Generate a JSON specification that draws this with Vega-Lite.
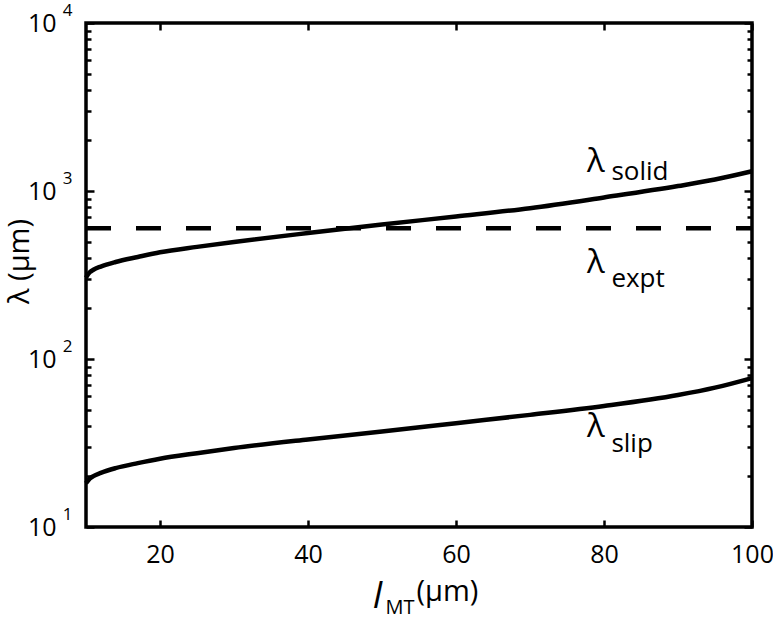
{
  "$schema": "https://vega.github.io/schema/vega-lite/v6.json",
  "width": 666,
  "height": 504,
  "autosize": "none",
  "padding": {"left": 86, "top": 23, "right": 21, "bottom": 91},
  "background": "white",
  "config": {
    "view": {"stroke": "black", "strokeWidth": 3.5},
    "font": "Open Sans",
    "axis": {"domain": false, "grid": false, "tickColor": "black", "tickWidth": 2.5, "labelColor": "black", "titleColor": "black", "labelFont": "Open Sans", "titleFont": "Open Sans", "labelFontSize": 25, "titleFontWeight": "normal", "labelFlush": false, "labelOverlap": false}
  },
  "datasets": {
    "curves": [
      {"l": 10, "lam": 305, "curve": "solid"},
      {"l": 10.5, "lam": 328, "curve": "solid"},
      {"l": 11, "lam": 340, "curve": "solid"},
      {"l": 12, "lam": 355, "curve": "solid"},
      {"l": 14, "lam": 378, "curve": "solid"},
      {"l": 17, "lam": 405, "curve": "solid"},
      {"l": 20, "lam": 432, "curve": "solid"},
      {"l": 25, "lam": 465, "curve": "solid"},
      {"l": 30, "lam": 497, "curve": "solid"},
      {"l": 40, "lam": 562, "curve": "solid"},
      {"l": 50, "lam": 632, "curve": "solid"},
      {"l": 60, "lam": 705, "curve": "solid"},
      {"l": 70, "lam": 790, "curve": "solid"},
      {"l": 80, "lam": 915, "curve": "solid"},
      {"l": 90, "lam": 1070, "curve": "solid"},
      {"l": 95, "lam": 1170, "curve": "solid"},
      {"l": 100, "lam": 1310, "curve": "solid"},
      {"l": 10, "lam": 18.2, "curve": "slip"},
      {"l": 10.5, "lam": 19.4, "curve": "slip"},
      {"l": 11, "lam": 20.1, "curve": "slip"},
      {"l": 12, "lam": 21, "curve": "slip"},
      {"l": 14, "lam": 22.4, "curve": "slip"},
      {"l": 17, "lam": 24, "curve": "slip"},
      {"l": 20, "lam": 25.5, "curve": "slip"},
      {"l": 25, "lam": 27.5, "curve": "slip"},
      {"l": 30, "lam": 29.5, "curve": "slip"},
      {"l": 40, "lam": 33.2, "curve": "slip"},
      {"l": 50, "lam": 37, "curve": "slip"},
      {"l": 60, "lam": 41.5, "curve": "slip"},
      {"l": 70, "lam": 46.5, "curve": "slip"},
      {"l": 80, "lam": 52.5, "curve": "slip"},
      {"l": 90, "lam": 61, "curve": "slip"},
      {"l": 95, "lam": 67.5, "curve": "slip"},
      {"l": 100, "lam": 77, "curve": "slip"}
    ],
    "expt": [
      {"l": 10, "lam": 600},
      {"l": 100, "lam": 600}
    ],
    "labels": [
      {"name": "solid", "lx": 77.7, "ly": 1298, "sx": 81.0, "sy": 1161},
      {"name": "expt", "lx": 77.7, "ly": 324, "sx": 81.0, "sy": 270},
      {"name": "slip", "lx": 77.7, "ly": 34.3, "sx": 81.0, "sy": 27.9}
    ]
  },
  "layer": [
    {
      "data": {"name": "curves"},
      "mark": {"type": "line", "color": "black", "strokeWidth": 4.5, "interpolate": "monotone"},
      "encoding": {
        "x": {
          "field": "l", "type": "quantitative",
          "scale": {"domain": [10, 100], "nice": false, "zero": false},
          "axis": {
            "orient": "bottom", "values": [20, 40, 60, 80, 100], "tickSize": -7, "labelPadding": 22,
            "title": "l", "titleFontStyle": "italic", "titleFontSize": 36,
            "titleX": 291, "titleY": 80, "titleBaseline": "alphabetic", "titleAlign": "center", "titleAngle": 0
          }
        },
        "y": {
          "field": "lam", "type": "quantitative",
          "scale": {"type": "log", "domain": [10, 10000], "nice": false},
          "axis": {
            "orient": "left",
            "values": [10, 20, 30, 40, 50, 60, 70, 80, 90, 100, 200, 300, 400, 500, 600, 700, 800, 900, 1000, 2000, 3000, 4000, 5000, 6000, 7000, 8000, 9000, 10000],
            "tickSize": {"condition": {"test": "indexof([10,100,1000,10000], datum.value) >= 0", "value": -8}, "value": -5},
            "labelExpr": "indexof([10,100,1000,10000], datum.value) >= 0 ? '10' : ''",
            "labelPadding": 38, "labelBaseline": "middle",
            "title": "λ (μm)", "titleFontSize": 29,
            "titleX": -58, "titleY": 238, "titleBaseline": "alphabetic", "titleAlign": "center", "titleAngle": 270
          }
        },
        "detail": {"field": "curve"}
      }
    },
    {
      "data": {"name": "expt"},
      "mark": {"type": "line", "color": "black", "strokeWidth": 4.5, "strokeDash": [25, 25]},
      "encoding": {
        "x": {
          "field": "l", "type": "quantitative",
          "axis": {"orient": "top", "values": [20, 40, 60, 80, 100], "tickSize": -7, "labels": false, "title": null}
        },
        "y": {
          "field": "lam", "type": "quantitative",
          "axis": {
            "orient": "right",
            "values": [10, 20, 30, 40, 50, 60, 70, 80, 90, 100, 200, 300, 400, 500, 600, 700, 800, 900, 1000, 2000, 3000, 4000, 5000, 6000, 7000, 8000, 9000, 10000],
            "tickSize": {"condition": {"test": "indexof([10,100,1000,10000], datum.value) >= 0", "value": -8}, "value": -5},
            "labels": false, "title": null
          }
        }
      }
    },
    {
      "data": {"name": "labels"},
      "mark": {"type": "text", "text": "λ", "align": "left", "baseline": "alphabetic", "fontSize": 33, "color": "black"},
      "encoding": {
        "x": {
          "field": "lx", "type": "quantitative",
          "axis": {
            "orient": "bottom", "ticks": false, "labels": false,
            "title": "MT", "titleFontSize": 20, "titleX": 299, "titleY": 86,
            "titleBaseline": "alphabetic", "titleAlign": "left", "titleAngle": 0
          }
        },
        "y": {
          "field": "ly", "type": "quantitative",
          "axis": {
            "orient": "left", "values": [10, 100, 1000, 10000], "ticks": false,
            "labelExpr": "'' + round(log(datum.value) / LN10)",
            "labelFontSize": 17, "labelPadding": 14, "labelOffset": -13, "labelBaseline": "middle",
            "title": null
          }
        }
      }
    },
    {
      "data": {"name": "labels"},
      "mark": {"type": "text", "align": "left", "baseline": "alphabetic", "fontSize": 26, "color": "black"},
      "encoding": {
        "x": {
          "field": "sx", "type": "quantitative",
          "axis": {
            "orient": "bottom", "ticks": false, "labels": false,
            "title": "(μm)", "titleFontSize": 29, "titleX": 330, "titleY": 73,
            "titleBaseline": "alphabetic", "titleAlign": "left", "titleAngle": 0
          }
        },
        "y": {"field": "sy", "type": "quantitative", "axis": null},
        "text": {"field": "name"}
      }
    }
  ],
  "resolve": {"axis": {"x": "independent", "y": "independent"}}
}
